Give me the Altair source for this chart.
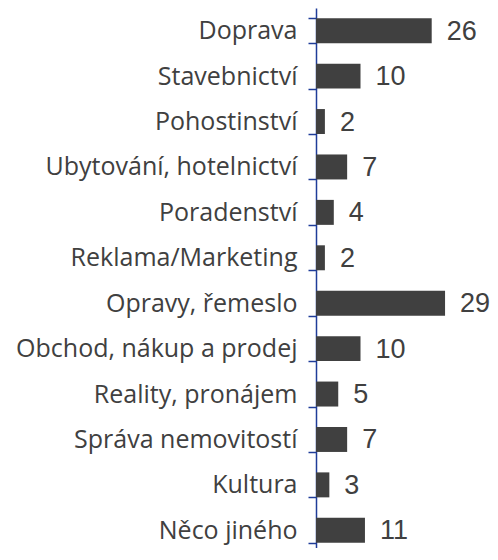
import altair as alt
import pandas as pd

categories = ["Doprava", "Stavebnictví", "Pohostinství", "Ubytování, hotelnictví",
              "Poradenství", "Reklama/Marketing", "Opravy, řemeslo",
              "Obchod, nákup a prodej", "Reality, pronájem", "Správa nemovitostí",
              "Kultura", "Něco jiného"]
values = [26, 10, 2, 7, 4, 2, 29, 10, 5, 7, 3, 11]

df = pd.DataFrame({"category": categories, "value": values})

blue = "#1f3c99"
y = alt.Y("category:N", sort=categories, title=None,
          scale=alt.Scale(paddingInner=0.45, paddingOuter=0.225, range=[0, 545]),
          axis=alt.Axis(domainColor=blue, domainWidth=1.5, tickColor=blue, tickWidth=1.5,
                        tickSize=8, tickBand="extent", labelFont="Open Sans",
                        labelFontSize=25, labelColor="#404040", labelPadding=11,
                        labelLimit=400))
x = alt.X("value:Q", scale=alt.Scale(domain=[0, 39.1]), axis=None)

bars = alt.Chart(df).mark_bar(color="#404040").encode(x=x, y=y)
text = alt.Chart(df).mark_text(align="left", baseline="middle", dx=15, dy=1,
                               font="Liberation Sans", fontSize=27,
                               color="#404040").encode(x=x, y=y, text="value:Q")

chart = (bars + text).properties(
    width=174, height=540,
    padding={"left": 308, "top": 0, "right": 0, "bottom": 0},
    autosize="none",
).configure_view(stroke=None)

chart.save("out.html", embed_options={"renderer": "svg", "actions": False})
